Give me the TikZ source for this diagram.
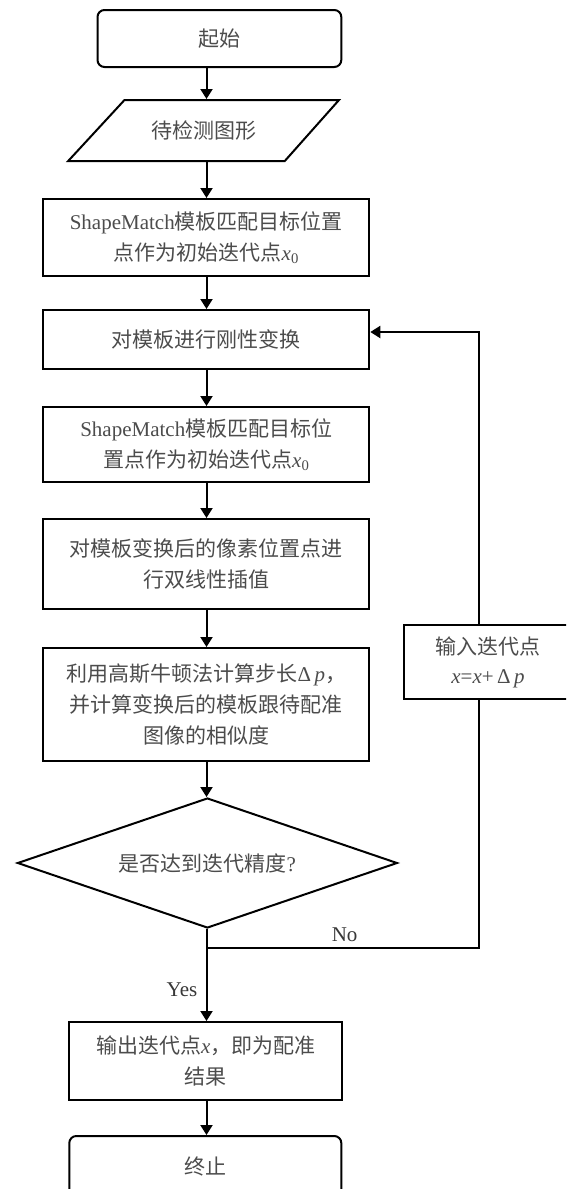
\documentclass[tikz,border=0pt]{standalone}
\usepackage{fontspec}
\setmainfont{Liberation Serif}
\newfontfamily\cjk{Noto Sans CJK SC}
\usetikzlibrary{shapes.geometric,arrows.meta}
\newcommand{\zh}[1]{{\cjk #1}}
\begin{document}
\begin{tikzpicture}[x=1pt,y=-1pt,
  base/.style={line width=2pt,inner sep=0pt,align=center,text=black!70,
    font=\fontsize{21}{31}\selectfont},
  box/.style={base,draw=black,minimum width=326pt},
  term/.style={base,draw=black,rounded corners=7pt},
  txt/.style={base,draw=none},
  dec/.style={base,draw=black,diamond,aspect=2.9,minimum width=380pt,minimum height=130pt},
  lbl/.style={inner sep=0pt,text=black!78,font=\fontsize{21}{25}\selectfont},
  conn/.style={draw=black,line width=2pt},
  arr/.style={conn,-{Triangle[length=10pt,width=12pt]}}]
\clip (0,0) rectangle (566,1189);
\fill[white] (0,0) rectangle (566,1189);
\coordinate (ax) at (206.5,0);
\coordinate (lx) at (478.7,0);
\coordinate (merge) at (206.5,948);
% nodes
\node[term,minimum width=243.8pt,minimum height=57pt] (start) at (219.4,38.5) {\zh{起始}};
\node[txt,minimum width=200pt,minimum height=61pt] (para) at (204,130.5) {\zh{待检测图形}};
\draw[conn,line join=miter] (68.2,161) -- (124.5,100) -- (339,100) -- (284.8,161) -- cycle;
\node[box,minimum height=77pt] (b1) at (206.3,237.5)
  {ShapeMatch\zh{模板匹配目标位置}\\\zh{点作为初始迭代点}\textit{x}\textsubscript{0}};
\node[box,minimum height=59pt] (b2) at (206.3,339.5) {\zh{对模板进行刚性变换}};
\node[box,minimum height=75pt] (b3) at (206.3,444.5)
  {ShapeMatch\zh{模板匹配目标位}\\\zh{置点作为初始迭代点}\textit{x}\textsubscript{0}};
\node[box,minimum height=90pt] (b4) at (206.3,564)
  {\zh{对模板变换后的像素位置点进}\\\zh{行双线性插值}};
\node[box,minimum height=113pt] (b5) at (206.3,704.5)
  {\zh{利用高斯牛顿法计算步长}Δ\,\textit{p}\zh{，}\\\zh{并计算变换后的模板跟待配准}\\\zh{图像的相似度}};
\node[dec] (d) at (207.4,863) {\zh{是否达到迭代精度}?};
\node[box,minimum width=168pt,minimum height=74pt] (rb) at (488,662)
  {\zh{输入迭代点}\\[-2pt]\textit{x}=\textit{x}+\,Δ\,\textit{p}};
\node[box,minimum width=273pt,minimum height=78pt] (out) at (205.8,1061)
  {\zh{输出迭代点}\textit{x}\zh{，即为配准}\\\zh{结果}};
\node[term,minimum width=272pt,minimum height=60pt] (stop) at (205.3,1166) {\zh{终止}};
% connectors
\draw[arr] (start.south -| ax) -- (para.north -| ax);
\draw[arr] (para.south -| ax) -- (b1.north -| ax);
\draw[arr] (b1.south -| ax) -- (b2.north -| ax);
\draw[arr] (b2.south -| ax) -- (b3.north -| ax);
\draw[arr] (b3.south -| ax) -- (b4.north -| ax);
\draw[arr] (b4.south -| ax) -- (b5.north -| ax);
\draw[arr] (b5.south -| ax) -- (d.north -| ax);
\draw[arr] (d.south -| ax) -- (out.north -| ax);
\draw[arr] (out.south -| ax) -- (stop.north -| ax);
\draw[conn] (rb.south -| lx) -- (lx |- merge) -- (merge);
\draw[arr] (rb.north -| lx) |- ([yshift=7.5pt]b2.east);
\node[lbl] (no) at (344.6,935) {No};
\node[lbl] (yes) at (182,990) {Yes};
\end{tikzpicture}
\end{document}
